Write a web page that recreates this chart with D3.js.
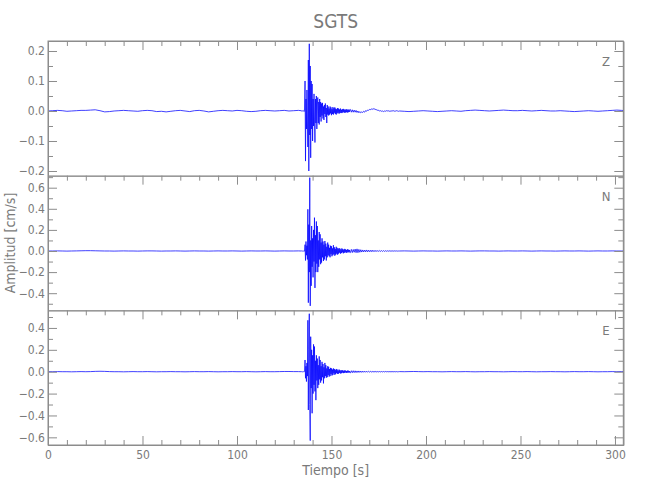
<!DOCTYPE html>
<html><head><meta charset="utf-8">
<script src="https://cdn.jsdelivr.net/npm/d3@7"></script>
<style>body{margin:0;background:#fff}</style>
</head><body>
<svg id="c" width="650" height="500"></svg>
<script>
// ---------- data ----------
const title = "SGTS";
const xLabel = "Tiempo [s]";
const yLabel = "Amplitud [cm/s]";
const components = ["Z", "N", "E"];
const xDomain = [0, 304.4];
const xTickValues = [0, 50, 100, 150, 200, 250, 300];
const xMinorTicks = [10,20,30,40,60,70,80,90,110,120,130,140,160,170,180,190,210,220,230,240,260,270,280,290];
const yDomains = [[-0.2156, 0.2333], [-0.5624, 0.714], [-0.670, 0.561]];
const yTickValues = [[-0.2,-0.1,0,0.1,0.2], [-0.4,-0.2,0,0.2,0.4,0.6], [-0.6,-0.4,-0.2,0,0.2,0.4]];
const yMinorTicks = [[-0.15,-0.05,0.05,0.15], [-0.5,-0.3,-0.1,0.1,0.3,0.5,0.7], [-0.5,-0.3,-0.1,0.1,0.3,0.5]];

// sampling of the record (s): pre-event noise, strong motion, coda, post-event noise
const preStart = 0,     preStep = 2.5;
const strongStart = 134, strongStep = 0.25;
const codaStart = 160,  codaStep = 0.5;
const postStart = 186,  postStep = 2.5;

// Z component (cm/s)
const zPre = [0.000,0.001,0.002,0.001,-0.001,0.000,0.001,0.002,0.002,0.003,
  0.004,0.001,-0.003,-0.002,0.000,0.001,0.002,0.001,0.000,-0.001,
  0.001,0.002,0.001,-0.002,-0.001,-0.003,-0.001,0.001,0.002,0.000,
  -0.002,0.001,0.002,0.000,-0.003,-0.001,0.001,0.002,0.001,0.000,
  0.002,0.001,-0.001,-0.002,-0.001,0.001,0.002,0.001,0.000,0.001,
  0.002,0.000,0.001,0.002];
const zStrong = [0.001,0.000,-0.001,0.001,0.002,0.000,-0.002,0.003,
  0.100,-0.167,0.040,-0.060,0.070,-0.030,-0.120,0.170,-0.200,0.224,
  -0.080,0.150,-0.156,0.100,-0.060,0.090,-0.100,0.040,-0.050,0.057,
  -0.030,-0.105,0.040,-0.040,0.050,-0.060,0.020,0.045,-0.040,0.030,
  -0.045,0.040,-0.020,0.030,-0.035,0.025,-0.015,0.027,-0.025,0.015,
  -0.030,0.020,-0.010,0.025,-0.020,0.010,-0.040,0.020,-0.012,0.015,
  -0.015,0.008,-0.012,0.015,-0.008,0.012,-0.014,0.006,-0.010,0.013,
  -0.012,0.009,-0.006,0.012,-0.010,0.008,-0.012,0.006,-0.008,0.010,
  -0.006,0.008,-0.009,0.005,-0.007,0.008,-0.006,0.004,-0.007,0.006,
  -0.005,0.007,-0.004,0.005,-0.006,0.004,-0.005,0.006,-0.004,0.005,
  -0.005,0.004,-0.004,0.005,-0.003,0.004];
const zCoda = [0.005,-0.004,
  0.004,-0.004,0.003,-0.004,0.002,-0.005,0.000,-0.006,-0.002,-0.006,
  -0.003,-0.005,-0.001,-0.004,0.001,-0.001,0.003,0.002,0.005,0.004,
  0.007,0.005,0.008,0.006,0.007,0.004,0.004,0.002,0.002,0.000,
  0.001,-0.001,0.000,-0.002,0.000,-0.001,0.001,0.000,0.001,-0.001,
  0.000,-0.001,0.001,0.000,0.001,-0.001,0.000,0.001,0.000,-0.001];
const zPost = [0.000,-0.001,-0.002,-0.001,0.000,0.001,0.000,-0.001,-0.002,-0.001,
  0.000,0.001,0.000,-0.001,0.001,0.002,0.003,0.002,0.001,0.000,
  0.001,0.002,0.003,0.002,0.001,0.001,0.002,0.001,0.000,0.001,
  0.002,0.001,0.000,0.000,0.001,0.000,-0.001,-0.002,-0.001,0.000,
  0.001,0.000,-0.001,0.000,0.001,0.002,0.003,0.002,0.001];

// N component (cm/s)
const nPre = [0.000,0.000,0.001,0.000,-0.001,0.000,0.001,0.002,0.003,0.003,
  0.002,0.001,0.000,0.000,-0.001,0.000,0.001,0.000,0.000,-0.001,
  0.000,0.001,0.001,0.000,-0.001,0.000,0.000,0.001,0.000,-0.001,
  0.000,0.001,0.000,0.000,-0.001,0.000,0.001,0.000,0.000,0.001,
  0.000,-0.001,0.000,0.001,0.000,0.000,0.001,0.000,-0.001,0.000,
  0.001,0.000,0.000,0.001];
const nStrong = [0.000,0.001,-0.001,0.000,0.001,-0.001,0.002,-0.002,
  0.060,-0.090,0.090,-0.040,0.050,-0.080,0.395,-0.490,0.250,-0.200,
  0.695,-0.520,0.100,-0.330,0.237,-0.150,0.120,-0.250,0.200,-0.100,
  0.316,-0.350,0.150,-0.200,0.280,-0.120,0.237,-0.200,0.100,-0.150,
  0.180,-0.080,0.158,-0.125,0.080,-0.110,0.120,-0.060,0.090,-0.095,
  0.060,-0.080,0.095,-0.050,0.070,-0.090,0.040,-0.060,0.080,-0.040,
  0.060,-0.050,0.030,-0.060,0.050,-0.030,0.045,-0.050,0.025,-0.040,
  0.055,-0.030,0.035,-0.045,0.020,-0.035,0.040,-0.025,0.030,-0.035,
  0.020,-0.025,0.028,-0.015,0.022,-0.025,0.015,-0.020,0.025,-0.012,
  0.018,-0.022,0.012,-0.018,0.020,-0.010,0.015,-0.018,0.010,-0.015,
  0.016,-0.010,0.012,-0.014,0.010,-0.012];
const nCoda = [-0.015,0.015,
  -0.015,0.014,-0.012,0.018,-0.016,0.020,-0.016,0.015,-0.012,0.012,
  -0.010,0.010,-0.009,0.009,-0.008,0.010,-0.008,0.008,-0.007,0.007,
  -0.007,0.008,-0.006,0.006,-0.006,0.006,-0.005,0.005,-0.005,0.005,
  -0.004,0.004,-0.004,0.004,-0.004,0.003,-0.003,0.003,-0.003,0.003,
  -0.002,0.002,-0.002,0.002,-0.002,0.002,-0.001,0.001,-0.001,0.000];
const nPost = [0.000,0.001,0.000,-0.001,0.000,0.001,0.000,0.000,-0.001,0.000,
  0.001,0.000,0.000,0.001,0.000,-0.001,0.000,0.001,0.001,0.000,
  0.000,-0.001,0.000,0.001,0.000,0.000,0.001,0.000,-0.001,0.000,
  0.001,0.000,0.000,-0.001,0.000,0.001,0.000,0.000,0.001,0.000,
  -0.001,0.000,0.001,0.000,0.000,0.001,0.000,0.000,0.001];

// E component (cm/s)
const ePre = [0.000,0.000,0.001,0.000,0.000,-0.001,0.000,0.001,0.000,0.001,
  0.003,0.004,0.003,0.001,0.000,0.000,-0.001,0.000,0.001,0.000,
  0.000,0.001,0.000,-0.001,0.000,0.000,0.001,0.000,0.000,-0.001,
  0.000,0.001,0.000,0.000,0.001,0.000,-0.001,0.000,0.000,0.001,
  0.000,0.000,0.001,0.000,-0.001,0.000,0.001,0.000,0.000,0.001,
  0.002,0.002,0.001,0.001];
const eStrong = [0.000,0.001,0.000,-0.001,0.001,0.000,-0.002,0.002,
  0.107,-0.060,0.050,-0.090,0.080,-0.040,0.470,-0.350,0.200,0.530,
  -0.300,-0.630,0.320,-0.150,0.200,-0.380,0.150,-0.200,0.250,-0.120,
  0.230,-0.180,0.100,-0.260,0.150,-0.080,0.120,-0.150,0.060,-0.120,
  0.140,-0.070,0.107,-0.100,0.050,-0.080,0.090,-0.050,0.070,-0.107,
  0.040,-0.060,0.080,-0.040,0.060,-0.055,0.030,-0.050,0.050,-0.030,
  0.045,-0.045,0.025,-0.040,0.035,-0.020,0.030,-0.035,0.020,-0.030,
  0.030,-0.015,0.025,-0.028,0.015,-0.022,0.025,-0.012,0.020,-0.020,
  0.010,-0.018,0.020,-0.010,0.015,-0.016,0.008,-0.014,0.015,-0.008,
  0.012,-0.013,0.008,-0.012,0.012,-0.006,0.010,-0.011,0.006,-0.010,
  0.010,-0.006,0.009,-0.009,0.006,-0.008];
const eCoda = [-0.010,0.009,
  -0.009,0.009,-0.008,0.008,-0.008,0.007,-0.007,0.007,-0.006,0.006,
  -0.006,0.006,-0.005,0.005,-0.005,0.005,-0.004,0.004,-0.004,0.004,
  -0.004,0.003,-0.003,0.003,-0.003,0.003,-0.003,0.002,-0.002,0.002,
  -0.002,0.002,-0.002,0.002,-0.002,0.002,-0.001,0.001,-0.001,0.001,
  -0.001,0.001,-0.001,0.001,-0.001,0.001,-0.001,0.001,-0.001,0.000];
const ePost = [0.001,0.000,0.001,0.002,0.001,0.000,0.001,0.000,0.000,-0.001,
  0.000,0.001,0.000,0.000,0.001,0.000,-0.001,0.000,0.000,0.001,
  0.000,0.000,-0.001,0.000,0.001,0.000,0.000,0.001,0.000,-0.001,
  0.000,0.000,0.001,0.000,0.000,-0.001,0.000,0.001,0.000,0.000,
  0.001,0.000,-0.001,0.000,0.000,0.001,0.000,0.001,0.000];

// ---------- layout ----------
const W = 650, H = 500;
const plotL = 48, plotR = 623.3, plotT = 41, plotB = 445;
const nPanels = 3;
const panelH = (plotB - plotT) / nPanels;
const axisColor = "#8c8c8c", textColor = "#7a7a7a", traceColor = "#0000ff";
const fontFam = "'Liberation Sans Narrow','DejaVu Sans Condensed','Liberation Sans',sans-serif";

function buildSeries(pre, strong, coda, post) {
  const pts = [];
  pre.forEach((v, i) => pts.push([preStart + i * preStep, v]));
  strong.forEach((v, i) => pts.push([strongStart + i * strongStep, v]));
  coda.forEach((v, i) => pts.push([codaStart + i * codaStep, v]));
  post.forEach((v, i) => pts.push([postStart + i * postStep, v]));
  return pts;
}
const series = [
  buildSeries(zPre, zStrong, zCoda, zPost),
  buildSeries(nPre, nStrong, nCoda, nPost),
  buildSeries(ePre, eStrong, eCoda, ePost)
];

const svg = d3.select("#c");
svg.append("rect").attr("width", W).attr("height", H).attr("fill", "#fff");

const x = d3.scaleLinear().domain(xDomain).range([plotL, plotR]);
const fmt = d3.format(".1f");

components.forEach((comp, p) => {
  const y0 = plotT + p * panelH, y1 = y0 + panelH;
  const y = d3.scaleLinear().domain(yDomains[p]).range([y1, y0]);
  const g = svg.append("g");
  const minors = yMinorTicks[p].filter(v => v >= yDomains[p][0] && v <= yDomains[p][1]);

  g.append("clipPath").attr("id", "clip" + p)
    .append("rect").attr("x", plotL).attr("y", y0).attr("width", plotR - plotL).attr("height", panelH);

  const line = d3.line().x(d => x(d[0])).y(d => y(d[1]));
  g.append("path").datum(series[p])
    .attr("clip-path", `url(#clip${p})`)
    .attr("fill", "none").attr("stroke", traceColor)
    .attr("stroke-width", 0.75).attr("stroke-linejoin", "round")
    .attr("d", line);

  g.append("g").attr("transform", `translate(${plotL},0)`)
    .call(d3.axisLeft(y).tickValues(yTickValues[p]).tickSize(-9).tickSizeOuter(0).tickPadding(3).tickFormat(fmt));
  g.append("g").attr("transform", `translate(${plotL},0)`)
    .call(d3.axisLeft(y).tickValues(minors).tickSize(-5).tickSizeOuter(0).tickFormat(""));
  g.append("g").attr("transform", `translate(${plotR},0)`)
    .call(d3.axisRight(y).tickValues(yTickValues[p]).tickSize(-9).tickSizeOuter(0).tickFormat(""));
  g.append("g").attr("transform", `translate(${plotR},0)`)
    .call(d3.axisRight(y).tickValues(minors).tickSize(-5).tickSizeOuter(0).tickFormat(""));
  g.append("g").attr("transform", `translate(0,${y0})`)
    .call(d3.axisTop(x).tickValues(xTickValues).tickSize(-9).tickSizeOuter(0).tickFormat(""));
  g.append("g").attr("transform", `translate(0,${y0})`)
    .call(d3.axisTop(x).tickValues(xMinorTicks).tickSize(-5).tickSizeOuter(0).tickFormat(""));
  if (p === nPanels - 1) {
    g.append("g").attr("transform", `translate(0,${y1})`)
      .call(d3.axisBottom(x).tickValues(xTickValues).tickSize(-9).tickSizeOuter(0).tickPadding(5).tickFormat(d3.format("d")));
    g.append("g").attr("transform", `translate(0,${y1})`)
      .call(d3.axisBottom(x).tickValues(xMinorTicks).tickSize(-5).tickSizeOuter(0).tickFormat(""));
  }

  g.append("text").attr("x", 606).attr("y", y0 + 25)
    .attr("text-anchor", "middle").attr("font-size", 13)
    .attr("font-family", fontFam).attr("fill", textColor).text(comp);
});

svg.append("rect").attr("x", plotL).attr("y", plotT).attr("width", plotR - plotL).attr("height", plotB - plotT)
  .attr("fill", "none").attr("stroke", axisColor).attr("stroke-width", 1);

svg.selectAll(".domain").attr("stroke", axisColor);
svg.selectAll(".tick line").attr("stroke", axisColor);
svg.selectAll(".tick text").attr("fill", textColor).attr("font-size", 12).attr("font-family", fontFam);

svg.append("text").attr("x", (plotL + plotR) / 2).attr("y", 28)
  .attr("text-anchor", "middle").attr("font-size", 19).attr("font-family", fontFam)
  .attr("fill", textColor).text(title);
svg.append("text").attr("x", (plotL + plotR) / 2).attr("y", 475)
  .attr("text-anchor", "middle").attr("font-size", 14).attr("font-family", fontFam)
  .attr("fill", textColor).text(xLabel);
svg.append("text").attr("transform", `translate(15,${(plotT + plotB) / 2}) rotate(-90)`)
  .attr("text-anchor", "middle").attr("font-size", 14).attr("font-family", fontFam)
  .attr("fill", textColor).text(yLabel);
</script>
</body></html>
